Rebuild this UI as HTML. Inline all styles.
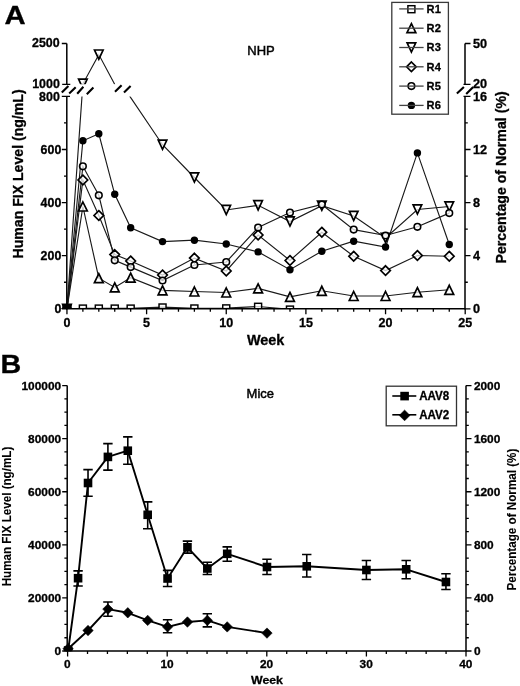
<!DOCTYPE html>
<html><head><meta charset="utf-8"><title>Figure</title>
<style>html,body{margin:0;padding:0;background:#fff;width:520px;height:686px;overflow:hidden}
svg text{fill:#000} text[font-weight]{stroke:#000;stroke-width:0.3px} svg{will-change:transform}</style></head>
<body>
<svg width="520" height="686" viewBox="0 0 520 686" style="display:block;font-family:'Liberation Sans', sans-serif">
<rect width="520" height="686" fill="#fff"/>
<defs><clipPath id="cLow"><rect x="0" y="96.40" width="520" height="212.70"/></clipPath><clipPath id="cUp"><rect x="0" y="0" width="520" height="84.30"/></clipPath><clipPath id="cB"><rect x="0" y="0" width="520" height="651.2"/></clipPath></defs>
<g clip-path="url(#cLow)"><polyline points="66.95,309.00 82.88,308.30 98.81,308.30 114.74,308.30 130.67,308.30 162.53,307.20 194.39,308.20 226.25,308.10 258.11,306.50 289.97,309.30" fill="none" stroke="#1a1a1a" stroke-width="1.15"/>
<polyline points="66.95,309.00 82.88,206.50 98.81,278.20 114.74,287.40 130.67,277.70 162.53,290.40 194.39,291.50 226.25,292.50 258.11,288.40 289.97,296.90 321.83,290.80 353.69,296.00 385.55,296.00 417.41,292.20 449.27,289.80" fill="none" stroke="#1a1a1a" stroke-width="1.15"/>
<polyline points="66.95,309.00 82.88,83.80 98.81,54.60 114.80,84.60" fill="none" stroke="#1a1a1a" stroke-width="1.15"/>
<polyline points="129.70,96.10 162.53,144.75 194.39,177.50 226.25,210.00 258.11,205.30 289.97,221.50 321.83,205.70 353.69,216.00 385.55,238.00 417.41,209.50 449.27,206.50" fill="none" stroke="#1a1a1a" stroke-width="1.15"/>
<polyline points="66.95,309.00 82.88,180.00 98.81,215.50 114.74,254.60 130.67,261.00 162.53,275.00 194.39,258.10 226.25,271.00 258.11,235.00 289.97,260.50 321.83,232.20 353.69,256.25 385.55,270.60 417.41,255.50 449.27,256.25" fill="none" stroke="#1a1a1a" stroke-width="1.15"/>
<polyline points="66.95,309.00 82.88,166.30 98.81,195.30 114.74,260.30 130.67,267.10 162.53,280.50 194.39,265.00 226.25,262.00 258.11,227.50 289.97,212.50 321.83,204.50 353.69,229.60 385.55,235.50 417.41,226.80 449.27,213.10" fill="none" stroke="#1a1a1a" stroke-width="1.15"/>
<polyline points="66.95,309.00 82.88,140.80 98.81,133.80 114.74,194.30 130.67,227.70 162.53,241.60 194.39,240.20 226.25,244.00 258.11,251.90 289.97,269.70 321.83,251.20 353.69,241.20 385.55,247.00 417.41,152.90 449.27,244.50" fill="none" stroke="#1a1a1a" stroke-width="1.15"/>
<rect x="63.45" y="305.80" width="7.00" height="7.00" fill="#fff" fill-opacity="0.75" stroke="#000" stroke-width="1.45"/>
<rect x="79.38" y="305.10" width="7.00" height="7.00" fill="#fff" fill-opacity="0.75" stroke="#000" stroke-width="1.45"/>
<rect x="95.31" y="305.10" width="7.00" height="7.00" fill="#fff" fill-opacity="0.75" stroke="#000" stroke-width="1.45"/>
<rect x="111.24" y="305.10" width="7.00" height="7.00" fill="#fff" fill-opacity="0.75" stroke="#000" stroke-width="1.45"/>
<rect x="127.17" y="305.10" width="7.00" height="7.00" fill="#fff" fill-opacity="0.75" stroke="#000" stroke-width="1.45"/>
<rect x="159.03" y="304.00" width="7.00" height="7.00" fill="#fff" fill-opacity="0.75" stroke="#000" stroke-width="1.45"/>
<rect x="190.89" y="305.00" width="7.00" height="7.00" fill="#fff" fill-opacity="0.75" stroke="#000" stroke-width="1.45"/>
<rect x="222.75" y="304.90" width="7.00" height="7.00" fill="#fff" fill-opacity="0.75" stroke="#000" stroke-width="1.45"/>
<rect x="254.61" y="303.30" width="7.00" height="7.00" fill="#fff" fill-opacity="0.75" stroke="#000" stroke-width="1.45"/>
<rect x="286.47" y="306.10" width="7.00" height="7.00" fill="#fff" fill-opacity="0.75" stroke="#000" stroke-width="1.45"/>
<path d="M66.95 304.50L71.35 313.50L62.55 313.50Z" fill="#fff" fill-opacity="0.75" stroke="#000" stroke-width="1.7"/>
<path d="M82.88 202.00L87.28 211.00L78.48 211.00Z" fill="#fff" fill-opacity="0.75" stroke="#000" stroke-width="1.7"/>
<path d="M98.81 273.70L103.21 282.70L94.41 282.70Z" fill="#fff" fill-opacity="0.75" stroke="#000" stroke-width="1.7"/>
<path d="M114.74 282.90L119.14 291.90L110.34 291.90Z" fill="#fff" fill-opacity="0.75" stroke="#000" stroke-width="1.7"/>
<path d="M130.67 273.20L135.07 282.20L126.27 282.20Z" fill="#fff" fill-opacity="0.75" stroke="#000" stroke-width="1.7"/>
<path d="M162.53 285.90L166.93 294.90L158.13 294.90Z" fill="#fff" fill-opacity="0.75" stroke="#000" stroke-width="1.7"/>
<path d="M194.39 287.00L198.79 296.00L189.99 296.00Z" fill="#fff" fill-opacity="0.75" stroke="#000" stroke-width="1.7"/>
<path d="M226.25 288.00L230.65 297.00L221.85 297.00Z" fill="#fff" fill-opacity="0.75" stroke="#000" stroke-width="1.7"/>
<path d="M258.11 283.90L262.51 292.90L253.71 292.90Z" fill="#fff" fill-opacity="0.75" stroke="#000" stroke-width="1.7"/>
<path d="M289.97 292.40L294.37 301.40L285.57 301.40Z" fill="#fff" fill-opacity="0.75" stroke="#000" stroke-width="1.7"/>
<path d="M321.83 286.30L326.23 295.30L317.43 295.30Z" fill="#fff" fill-opacity="0.75" stroke="#000" stroke-width="1.7"/>
<path d="M353.69 291.50L358.09 300.50L349.29 300.50Z" fill="#fff" fill-opacity="0.75" stroke="#000" stroke-width="1.7"/>
<path d="M385.55 291.50L389.95 300.50L381.15 300.50Z" fill="#fff" fill-opacity="0.75" stroke="#000" stroke-width="1.7"/>
<path d="M417.41 287.70L421.81 296.70L413.01 296.70Z" fill="#fff" fill-opacity="0.75" stroke="#000" stroke-width="1.7"/>
<path d="M449.27 285.30L453.67 294.30L444.87 294.30Z" fill="#fff" fill-opacity="0.75" stroke="#000" stroke-width="1.7"/>
<path d="M62.65 304.40L71.25 304.40L66.95 313.60Z" fill="#fff" fill-opacity="0.75" stroke="#000" stroke-width="1.7"/>
<path d="M78.58 79.20L87.18 79.20L82.88 88.40Z" fill="#fff" fill-opacity="0.75" stroke="#000" stroke-width="1.7"/>
<path d="M94.51 50.00L103.11 50.00L98.81 59.20Z" fill="#fff" fill-opacity="0.75" stroke="#000" stroke-width="1.7"/>
<path d="M158.23 140.15L166.83 140.15L162.53 149.35Z" fill="#fff" fill-opacity="0.75" stroke="#000" stroke-width="1.7"/>
<path d="M190.09 172.90L198.69 172.90L194.39 182.10Z" fill="#fff" fill-opacity="0.75" stroke="#000" stroke-width="1.7"/>
<path d="M221.95 205.40L230.55 205.40L226.25 214.60Z" fill="#fff" fill-opacity="0.75" stroke="#000" stroke-width="1.7"/>
<path d="M253.81 200.70L262.41 200.70L258.11 209.90Z" fill="#fff" fill-opacity="0.75" stroke="#000" stroke-width="1.7"/>
<path d="M285.67 216.90L294.27 216.90L289.97 226.10Z" fill="#fff" fill-opacity="0.75" stroke="#000" stroke-width="1.7"/>
<path d="M317.53 201.10L326.13 201.10L321.83 210.30Z" fill="#fff" fill-opacity="0.75" stroke="#000" stroke-width="1.7"/>
<path d="M349.39 211.40L357.99 211.40L353.69 220.60Z" fill="#fff" fill-opacity="0.75" stroke="#000" stroke-width="1.7"/>
<path d="M381.25 233.40L389.85 233.40L385.55 242.60Z" fill="#fff" fill-opacity="0.75" stroke="#000" stroke-width="1.7"/>
<path d="M413.11 204.90L421.71 204.90L417.41 214.10Z" fill="#fff" fill-opacity="0.75" stroke="#000" stroke-width="1.7"/>
<path d="M444.97 201.90L453.57 201.90L449.27 211.10Z" fill="#fff" fill-opacity="0.75" stroke="#000" stroke-width="1.7"/>
<path d="M66.95 304.20L71.75 309.00L66.95 313.80L62.15 309.00Z" fill="#fff" fill-opacity="0.75" stroke="#000" stroke-width="1.7"/>
<path d="M82.88 175.20L87.68 180.00L82.88 184.80L78.08 180.00Z" fill="#fff" fill-opacity="0.75" stroke="#000" stroke-width="1.7"/>
<path d="M98.81 210.70L103.61 215.50L98.81 220.30L94.01 215.50Z" fill="#fff" fill-opacity="0.75" stroke="#000" stroke-width="1.7"/>
<path d="M114.74 249.80L119.54 254.60L114.74 259.40L109.94 254.60Z" fill="#fff" fill-opacity="0.75" stroke="#000" stroke-width="1.7"/>
<path d="M130.67 256.20L135.47 261.00L130.67 265.80L125.87 261.00Z" fill="#fff" fill-opacity="0.75" stroke="#000" stroke-width="1.7"/>
<path d="M162.53 270.20L167.33 275.00L162.53 279.80L157.73 275.00Z" fill="#fff" fill-opacity="0.75" stroke="#000" stroke-width="1.7"/>
<path d="M194.39 253.30L199.19 258.10L194.39 262.90L189.59 258.10Z" fill="#fff" fill-opacity="0.75" stroke="#000" stroke-width="1.7"/>
<path d="M226.25 266.20L231.05 271.00L226.25 275.80L221.45 271.00Z" fill="#fff" fill-opacity="0.75" stroke="#000" stroke-width="1.7"/>
<path d="M258.11 230.20L262.91 235.00L258.11 239.80L253.31 235.00Z" fill="#fff" fill-opacity="0.75" stroke="#000" stroke-width="1.7"/>
<path d="M289.97 255.70L294.77 260.50L289.97 265.30L285.17 260.50Z" fill="#fff" fill-opacity="0.75" stroke="#000" stroke-width="1.7"/>
<path d="M321.83 227.40L326.63 232.20L321.83 237.00L317.03 232.20Z" fill="#fff" fill-opacity="0.75" stroke="#000" stroke-width="1.7"/>
<path d="M353.69 251.45L358.49 256.25L353.69 261.05L348.89 256.25Z" fill="#fff" fill-opacity="0.75" stroke="#000" stroke-width="1.7"/>
<path d="M385.55 265.80L390.35 270.60L385.55 275.40L380.75 270.60Z" fill="#fff" fill-opacity="0.75" stroke="#000" stroke-width="1.7"/>
<path d="M417.41 250.70L422.21 255.50L417.41 260.30L412.61 255.50Z" fill="#fff" fill-opacity="0.75" stroke="#000" stroke-width="1.7"/>
<path d="M449.27 251.45L454.07 256.25L449.27 261.05L444.47 256.25Z" fill="#fff" fill-opacity="0.75" stroke="#000" stroke-width="1.7"/>
<circle cx="66.95" cy="309.00" r="3.3" fill="#fff" fill-opacity="0.75" stroke="#000" stroke-width="1.6"/>
<circle cx="82.88" cy="166.30" r="3.3" fill="#fff" fill-opacity="0.75" stroke="#000" stroke-width="1.6"/>
<circle cx="98.81" cy="195.30" r="3.3" fill="#fff" fill-opacity="0.75" stroke="#000" stroke-width="1.6"/>
<circle cx="114.74" cy="260.30" r="3.3" fill="#fff" fill-opacity="0.75" stroke="#000" stroke-width="1.6"/>
<circle cx="130.67" cy="267.10" r="3.3" fill="#fff" fill-opacity="0.75" stroke="#000" stroke-width="1.6"/>
<circle cx="162.53" cy="280.50" r="3.3" fill="#fff" fill-opacity="0.75" stroke="#000" stroke-width="1.6"/>
<circle cx="194.39" cy="265.00" r="3.3" fill="#fff" fill-opacity="0.75" stroke="#000" stroke-width="1.6"/>
<circle cx="226.25" cy="262.00" r="3.3" fill="#fff" fill-opacity="0.75" stroke="#000" stroke-width="1.6"/>
<circle cx="258.11" cy="227.50" r="3.3" fill="#fff" fill-opacity="0.75" stroke="#000" stroke-width="1.6"/>
<circle cx="289.97" cy="212.50" r="3.3" fill="#fff" fill-opacity="0.75" stroke="#000" stroke-width="1.6"/>
<circle cx="321.83" cy="204.50" r="3.3" fill="#fff" fill-opacity="0.75" stroke="#000" stroke-width="1.6"/>
<circle cx="353.69" cy="229.60" r="3.3" fill="#fff" fill-opacity="0.75" stroke="#000" stroke-width="1.6"/>
<circle cx="385.55" cy="235.50" r="3.3" fill="#fff" fill-opacity="0.75" stroke="#000" stroke-width="1.6"/>
<circle cx="417.41" cy="226.80" r="3.3" fill="#fff" fill-opacity="0.75" stroke="#000" stroke-width="1.6"/>
<circle cx="449.27" cy="213.10" r="3.3" fill="#fff" fill-opacity="0.75" stroke="#000" stroke-width="1.6"/>
<circle cx="66.95" cy="309.00" r="3.7" fill="#000"/>
<circle cx="82.88" cy="140.80" r="3.7" fill="#000"/>
<circle cx="98.81" cy="133.80" r="3.7" fill="#000"/>
<circle cx="114.74" cy="194.30" r="3.7" fill="#000"/>
<circle cx="130.67" cy="227.70" r="3.7" fill="#000"/>
<circle cx="162.53" cy="241.60" r="3.7" fill="#000"/>
<circle cx="194.39" cy="240.20" r="3.7" fill="#000"/>
<circle cx="226.25" cy="244.00" r="3.7" fill="#000"/>
<circle cx="258.11" cy="251.90" r="3.7" fill="#000"/>
<circle cx="289.97" cy="269.70" r="3.7" fill="#000"/>
<circle cx="321.83" cy="251.20" r="3.7" fill="#000"/>
<circle cx="353.69" cy="241.20" r="3.7" fill="#000"/>
<circle cx="385.55" cy="247.00" r="3.7" fill="#000"/>
<circle cx="417.41" cy="152.90" r="3.7" fill="#000"/>
<circle cx="449.27" cy="244.50" r="3.7" fill="#000"/><rect x="62.4" y="304" width="9.2" height="5.2" fill="#000"/></g>
<g clip-path="url(#cUp)"><polyline points="66.95,309.00 82.88,308.30 98.81,308.30 114.74,308.30 130.67,308.30 162.53,307.20 194.39,308.20 226.25,308.10 258.11,306.50 289.97,309.30" fill="none" stroke="#1a1a1a" stroke-width="1.15"/>
<polyline points="66.95,309.00 82.88,206.50 98.81,278.20 114.74,287.40 130.67,277.70 162.53,290.40 194.39,291.50 226.25,292.50 258.11,288.40 289.97,296.90 321.83,290.80 353.69,296.00 385.55,296.00 417.41,292.20 449.27,289.80" fill="none" stroke="#1a1a1a" stroke-width="1.15"/>
<polyline points="66.95,309.00 82.88,83.80 98.81,54.60 114.80,84.60" fill="none" stroke="#1a1a1a" stroke-width="1.15"/>
<polyline points="129.70,96.10 162.53,144.75 194.39,177.50 226.25,210.00 258.11,205.30 289.97,221.50 321.83,205.70 353.69,216.00 385.55,238.00 417.41,209.50 449.27,206.50" fill="none" stroke="#1a1a1a" stroke-width="1.15"/>
<polyline points="66.95,309.00 82.88,180.00 98.81,215.50 114.74,254.60 130.67,261.00 162.53,275.00 194.39,258.10 226.25,271.00 258.11,235.00 289.97,260.50 321.83,232.20 353.69,256.25 385.55,270.60 417.41,255.50 449.27,256.25" fill="none" stroke="#1a1a1a" stroke-width="1.15"/>
<polyline points="66.95,309.00 82.88,166.30 98.81,195.30 114.74,260.30 130.67,267.10 162.53,280.50 194.39,265.00 226.25,262.00 258.11,227.50 289.97,212.50 321.83,204.50 353.69,229.60 385.55,235.50 417.41,226.80 449.27,213.10" fill="none" stroke="#1a1a1a" stroke-width="1.15"/>
<polyline points="66.95,309.00 82.88,140.80 98.81,133.80 114.74,194.30 130.67,227.70 162.53,241.60 194.39,240.20 226.25,244.00 258.11,251.90 289.97,269.70 321.83,251.20 353.69,241.20 385.55,247.00 417.41,152.90 449.27,244.50" fill="none" stroke="#1a1a1a" stroke-width="1.15"/>
<rect x="63.45" y="305.80" width="7.00" height="7.00" fill="#fff" fill-opacity="0.75" stroke="#000" stroke-width="1.45"/>
<rect x="79.38" y="305.10" width="7.00" height="7.00" fill="#fff" fill-opacity="0.75" stroke="#000" stroke-width="1.45"/>
<rect x="95.31" y="305.10" width="7.00" height="7.00" fill="#fff" fill-opacity="0.75" stroke="#000" stroke-width="1.45"/>
<rect x="111.24" y="305.10" width="7.00" height="7.00" fill="#fff" fill-opacity="0.75" stroke="#000" stroke-width="1.45"/>
<rect x="127.17" y="305.10" width="7.00" height="7.00" fill="#fff" fill-opacity="0.75" stroke="#000" stroke-width="1.45"/>
<rect x="159.03" y="304.00" width="7.00" height="7.00" fill="#fff" fill-opacity="0.75" stroke="#000" stroke-width="1.45"/>
<rect x="190.89" y="305.00" width="7.00" height="7.00" fill="#fff" fill-opacity="0.75" stroke="#000" stroke-width="1.45"/>
<rect x="222.75" y="304.90" width="7.00" height="7.00" fill="#fff" fill-opacity="0.75" stroke="#000" stroke-width="1.45"/>
<rect x="254.61" y="303.30" width="7.00" height="7.00" fill="#fff" fill-opacity="0.75" stroke="#000" stroke-width="1.45"/>
<rect x="286.47" y="306.10" width="7.00" height="7.00" fill="#fff" fill-opacity="0.75" stroke="#000" stroke-width="1.45"/>
<path d="M66.95 304.50L71.35 313.50L62.55 313.50Z" fill="#fff" fill-opacity="0.75" stroke="#000" stroke-width="1.7"/>
<path d="M82.88 202.00L87.28 211.00L78.48 211.00Z" fill="#fff" fill-opacity="0.75" stroke="#000" stroke-width="1.7"/>
<path d="M98.81 273.70L103.21 282.70L94.41 282.70Z" fill="#fff" fill-opacity="0.75" stroke="#000" stroke-width="1.7"/>
<path d="M114.74 282.90L119.14 291.90L110.34 291.90Z" fill="#fff" fill-opacity="0.75" stroke="#000" stroke-width="1.7"/>
<path d="M130.67 273.20L135.07 282.20L126.27 282.20Z" fill="#fff" fill-opacity="0.75" stroke="#000" stroke-width="1.7"/>
<path d="M162.53 285.90L166.93 294.90L158.13 294.90Z" fill="#fff" fill-opacity="0.75" stroke="#000" stroke-width="1.7"/>
<path d="M194.39 287.00L198.79 296.00L189.99 296.00Z" fill="#fff" fill-opacity="0.75" stroke="#000" stroke-width="1.7"/>
<path d="M226.25 288.00L230.65 297.00L221.85 297.00Z" fill="#fff" fill-opacity="0.75" stroke="#000" stroke-width="1.7"/>
<path d="M258.11 283.90L262.51 292.90L253.71 292.90Z" fill="#fff" fill-opacity="0.75" stroke="#000" stroke-width="1.7"/>
<path d="M289.97 292.40L294.37 301.40L285.57 301.40Z" fill="#fff" fill-opacity="0.75" stroke="#000" stroke-width="1.7"/>
<path d="M321.83 286.30L326.23 295.30L317.43 295.30Z" fill="#fff" fill-opacity="0.75" stroke="#000" stroke-width="1.7"/>
<path d="M353.69 291.50L358.09 300.50L349.29 300.50Z" fill="#fff" fill-opacity="0.75" stroke="#000" stroke-width="1.7"/>
<path d="M385.55 291.50L389.95 300.50L381.15 300.50Z" fill="#fff" fill-opacity="0.75" stroke="#000" stroke-width="1.7"/>
<path d="M417.41 287.70L421.81 296.70L413.01 296.70Z" fill="#fff" fill-opacity="0.75" stroke="#000" stroke-width="1.7"/>
<path d="M449.27 285.30L453.67 294.30L444.87 294.30Z" fill="#fff" fill-opacity="0.75" stroke="#000" stroke-width="1.7"/>
<path d="M62.65 304.40L71.25 304.40L66.95 313.60Z" fill="#fff" fill-opacity="0.75" stroke="#000" stroke-width="1.7"/>
<path d="M78.58 79.20L87.18 79.20L82.88 88.40Z" fill="#fff" fill-opacity="0.75" stroke="#000" stroke-width="1.7"/>
<path d="M94.51 50.00L103.11 50.00L98.81 59.20Z" fill="#fff" fill-opacity="0.75" stroke="#000" stroke-width="1.7"/>
<path d="M158.23 140.15L166.83 140.15L162.53 149.35Z" fill="#fff" fill-opacity="0.75" stroke="#000" stroke-width="1.7"/>
<path d="M190.09 172.90L198.69 172.90L194.39 182.10Z" fill="#fff" fill-opacity="0.75" stroke="#000" stroke-width="1.7"/>
<path d="M221.95 205.40L230.55 205.40L226.25 214.60Z" fill="#fff" fill-opacity="0.75" stroke="#000" stroke-width="1.7"/>
<path d="M253.81 200.70L262.41 200.70L258.11 209.90Z" fill="#fff" fill-opacity="0.75" stroke="#000" stroke-width="1.7"/>
<path d="M285.67 216.90L294.27 216.90L289.97 226.10Z" fill="#fff" fill-opacity="0.75" stroke="#000" stroke-width="1.7"/>
<path d="M317.53 201.10L326.13 201.10L321.83 210.30Z" fill="#fff" fill-opacity="0.75" stroke="#000" stroke-width="1.7"/>
<path d="M349.39 211.40L357.99 211.40L353.69 220.60Z" fill="#fff" fill-opacity="0.75" stroke="#000" stroke-width="1.7"/>
<path d="M381.25 233.40L389.85 233.40L385.55 242.60Z" fill="#fff" fill-opacity="0.75" stroke="#000" stroke-width="1.7"/>
<path d="M413.11 204.90L421.71 204.90L417.41 214.10Z" fill="#fff" fill-opacity="0.75" stroke="#000" stroke-width="1.7"/>
<path d="M444.97 201.90L453.57 201.90L449.27 211.10Z" fill="#fff" fill-opacity="0.75" stroke="#000" stroke-width="1.7"/>
<path d="M66.95 304.20L71.75 309.00L66.95 313.80L62.15 309.00Z" fill="#fff" fill-opacity="0.75" stroke="#000" stroke-width="1.7"/>
<path d="M82.88 175.20L87.68 180.00L82.88 184.80L78.08 180.00Z" fill="#fff" fill-opacity="0.75" stroke="#000" stroke-width="1.7"/>
<path d="M98.81 210.70L103.61 215.50L98.81 220.30L94.01 215.50Z" fill="#fff" fill-opacity="0.75" stroke="#000" stroke-width="1.7"/>
<path d="M114.74 249.80L119.54 254.60L114.74 259.40L109.94 254.60Z" fill="#fff" fill-opacity="0.75" stroke="#000" stroke-width="1.7"/>
<path d="M130.67 256.20L135.47 261.00L130.67 265.80L125.87 261.00Z" fill="#fff" fill-opacity="0.75" stroke="#000" stroke-width="1.7"/>
<path d="M162.53 270.20L167.33 275.00L162.53 279.80L157.73 275.00Z" fill="#fff" fill-opacity="0.75" stroke="#000" stroke-width="1.7"/>
<path d="M194.39 253.30L199.19 258.10L194.39 262.90L189.59 258.10Z" fill="#fff" fill-opacity="0.75" stroke="#000" stroke-width="1.7"/>
<path d="M226.25 266.20L231.05 271.00L226.25 275.80L221.45 271.00Z" fill="#fff" fill-opacity="0.75" stroke="#000" stroke-width="1.7"/>
<path d="M258.11 230.20L262.91 235.00L258.11 239.80L253.31 235.00Z" fill="#fff" fill-opacity="0.75" stroke="#000" stroke-width="1.7"/>
<path d="M289.97 255.70L294.77 260.50L289.97 265.30L285.17 260.50Z" fill="#fff" fill-opacity="0.75" stroke="#000" stroke-width="1.7"/>
<path d="M321.83 227.40L326.63 232.20L321.83 237.00L317.03 232.20Z" fill="#fff" fill-opacity="0.75" stroke="#000" stroke-width="1.7"/>
<path d="M353.69 251.45L358.49 256.25L353.69 261.05L348.89 256.25Z" fill="#fff" fill-opacity="0.75" stroke="#000" stroke-width="1.7"/>
<path d="M385.55 265.80L390.35 270.60L385.55 275.40L380.75 270.60Z" fill="#fff" fill-opacity="0.75" stroke="#000" stroke-width="1.7"/>
<path d="M417.41 250.70L422.21 255.50L417.41 260.30L412.61 255.50Z" fill="#fff" fill-opacity="0.75" stroke="#000" stroke-width="1.7"/>
<path d="M449.27 251.45L454.07 256.25L449.27 261.05L444.47 256.25Z" fill="#fff" fill-opacity="0.75" stroke="#000" stroke-width="1.7"/>
<circle cx="66.95" cy="309.00" r="3.3" fill="#fff" fill-opacity="0.75" stroke="#000" stroke-width="1.6"/>
<circle cx="82.88" cy="166.30" r="3.3" fill="#fff" fill-opacity="0.75" stroke="#000" stroke-width="1.6"/>
<circle cx="98.81" cy="195.30" r="3.3" fill="#fff" fill-opacity="0.75" stroke="#000" stroke-width="1.6"/>
<circle cx="114.74" cy="260.30" r="3.3" fill="#fff" fill-opacity="0.75" stroke="#000" stroke-width="1.6"/>
<circle cx="130.67" cy="267.10" r="3.3" fill="#fff" fill-opacity="0.75" stroke="#000" stroke-width="1.6"/>
<circle cx="162.53" cy="280.50" r="3.3" fill="#fff" fill-opacity="0.75" stroke="#000" stroke-width="1.6"/>
<circle cx="194.39" cy="265.00" r="3.3" fill="#fff" fill-opacity="0.75" stroke="#000" stroke-width="1.6"/>
<circle cx="226.25" cy="262.00" r="3.3" fill="#fff" fill-opacity="0.75" stroke="#000" stroke-width="1.6"/>
<circle cx="258.11" cy="227.50" r="3.3" fill="#fff" fill-opacity="0.75" stroke="#000" stroke-width="1.6"/>
<circle cx="289.97" cy="212.50" r="3.3" fill="#fff" fill-opacity="0.75" stroke="#000" stroke-width="1.6"/>
<circle cx="321.83" cy="204.50" r="3.3" fill="#fff" fill-opacity="0.75" stroke="#000" stroke-width="1.6"/>
<circle cx="353.69" cy="229.60" r="3.3" fill="#fff" fill-opacity="0.75" stroke="#000" stroke-width="1.6"/>
<circle cx="385.55" cy="235.50" r="3.3" fill="#fff" fill-opacity="0.75" stroke="#000" stroke-width="1.6"/>
<circle cx="417.41" cy="226.80" r="3.3" fill="#fff" fill-opacity="0.75" stroke="#000" stroke-width="1.6"/>
<circle cx="449.27" cy="213.10" r="3.3" fill="#fff" fill-opacity="0.75" stroke="#000" stroke-width="1.6"/>
<circle cx="66.95" cy="309.00" r="3.7" fill="#000"/>
<circle cx="82.88" cy="140.80" r="3.7" fill="#000"/>
<circle cx="98.81" cy="133.80" r="3.7" fill="#000"/>
<circle cx="114.74" cy="194.30" r="3.7" fill="#000"/>
<circle cx="130.67" cy="227.70" r="3.7" fill="#000"/>
<circle cx="162.53" cy="241.60" r="3.7" fill="#000"/>
<circle cx="194.39" cy="240.20" r="3.7" fill="#000"/>
<circle cx="226.25" cy="244.00" r="3.7" fill="#000"/>
<circle cx="258.11" cy="251.90" r="3.7" fill="#000"/>
<circle cx="289.97" cy="269.70" r="3.7" fill="#000"/>
<circle cx="321.83" cy="251.20" r="3.7" fill="#000"/>
<circle cx="353.69" cy="241.20" r="3.7" fill="#000"/>
<circle cx="385.55" cy="247.00" r="3.7" fill="#000"/>
<circle cx="417.41" cy="152.90" r="3.7" fill="#000"/>
<circle cx="449.27" cy="244.50" r="3.7" fill="#000"/></g>
<path d="M66.8 43.5V84.3M66.8 96.4V309.55" stroke="#000" stroke-width="1.5" fill="none"/>
<path d="M465.0 43.5V84.3M465.0 96.4V309.55" stroke="#000" stroke-width="1.5" fill="none"/>
<path d="M66.2 308.8H465.0" stroke="#000" stroke-width="1.5" fill="none"/>
<path d="M61.8 308.80H66.8M61.8 255.70H66.8M61.8 202.60H66.8M61.8 149.50H66.8M61.8 96.40H66.8M64.0 282.25H66.8M64.0 229.15H66.8M64.0 176.05H66.8M64.0 122.95H66.8M61.8 43.5H66.8M62.199999999999996 84.3H70.3M62.199999999999996 96.4H70.0M465.0 308.80H470.5M465.0 255.70H470.5M465.0 202.60H470.5M465.0 149.50H470.5M465.0 96.40H470.5M465.0 282.25H467.8M465.0 229.15H467.8M465.0 176.05H467.8M465.0 122.95H467.8M465.0 43.5H470.5M463.5 84.3H470.5M463.5 96.4H470.5M66.95 308.8V314.3M82.88 308.8V311.8M98.81 308.8V311.8M114.74 308.8V311.8M130.67 308.8V311.8M146.60 308.8V314.3M162.53 308.8V311.8M178.46 308.8V311.8M194.39 308.8V311.8M210.32 308.8V311.8M226.25 308.8V314.3M242.18 308.8V311.8M258.11 308.8V311.8M274.04 308.8V311.8M289.97 308.8V311.8M305.90 308.8V314.3M321.83 308.8V311.8M337.76 308.8V311.8M353.69 308.8V311.8M369.62 308.8V311.8M385.55 308.8V314.3M401.48 308.8V311.8M417.41 308.8V311.8M433.34 308.8V311.8M449.27 308.8V311.8M465.20 308.8V314.3" stroke="#000" stroke-width="1.3" fill="none"/>
<path d="M61.8 92.6L68.4 86.1M69.2 93.4L75.7 87.2M77.2 93.8L83.4 86.8M86.8 94.2L93.4 87.6M115.0 91.8L121.6 85.3M124.0 92.4L130.6 85.9M456.9 93.6L463.9 86.9M466.2 94.1L473.2 87.1" stroke="#000" stroke-width="2.1" fill="none"/>
<text transform="translate(61.30 313.00)" font-size="12.4" font-weight="bold" text-anchor="end">0</text>
<text transform="translate(61.30 259.90)" font-size="12.4" font-weight="bold" text-anchor="end">200</text>
<text transform="translate(61.30 206.80)" font-size="12.4" font-weight="bold" text-anchor="end">400</text>
<text transform="translate(61.30 153.70)" font-size="12.4" font-weight="bold" text-anchor="end">600</text>
<text transform="translate(59.80 100.80)" font-size="12.4" font-weight="bold" text-anchor="end">800</text>
<text transform="translate(59.80 87.60)" font-size="12.4" font-weight="bold" text-anchor="end">1000</text>
<text transform="translate(59.60 47.40)" font-size="12.4" font-weight="bold" text-anchor="end">2500</text>
<text transform="translate(472.90 313.00) scale(1.040 1)" font-size="12.2" font-weight="bold">0</text>
<text transform="translate(472.90 259.90) scale(1.040 1)" font-size="12.2" font-weight="bold">4</text>
<text transform="translate(472.90 206.80) scale(1.040 1)" font-size="12.2" font-weight="bold">8</text>
<text transform="translate(472.90 153.70) scale(1.040 1)" font-size="12.2" font-weight="bold">12</text>
<text transform="translate(472.90 100.60) scale(1.040 1)" font-size="12.2" font-weight="bold">16</text>
<text transform="translate(472.90 88.20) scale(1.040 1)" font-size="12.2" font-weight="bold">20</text>
<text transform="translate(472.90 47.90) scale(1.040 1)" font-size="12.2" font-weight="bold">50</text>
<text transform="translate(66.95 327.20) scale(0.980 1)" font-size="12.8" font-weight="bold" text-anchor="middle">0</text>
<text transform="translate(146.60 327.20) scale(0.980 1)" font-size="12.8" font-weight="bold" text-anchor="middle">5</text>
<text transform="translate(226.25 327.20) scale(0.980 1)" font-size="12.8" font-weight="bold" text-anchor="middle">10</text>
<text transform="translate(305.90 327.20) scale(0.980 1)" font-size="12.8" font-weight="bold" text-anchor="middle">15</text>
<text transform="translate(385.55 327.20) scale(0.980 1)" font-size="12.8" font-weight="bold" text-anchor="middle">20</text>
<text transform="translate(465.20 327.20) scale(0.980 1)" font-size="12.8" font-weight="bold" text-anchor="middle">25</text>
<text transform="translate(246.90 345.30) scale(1.030 1)" font-size="14.0" font-weight="bold">Week</text>
<text transform="translate(247.30 55.00)" font-size="13.0" stroke="#000" stroke-width="0.45">NHP</text>
<text transform="translate(4.60 24.00) scale(1.100 1)" font-size="26.6" font-weight="bold">A</text>
<text transform="translate(23.20 258.49) rotate(-90) scale(0.940 1)" font-size="15.0" font-weight="bold">Human FIX Level (ng/mL)</text>
<text transform="translate(505.80 263.49) rotate(-90) scale(0.957 1)" font-size="14.8" font-weight="bold">Percentage of Normal (%)</text>
<rect x="391.8" y="2.4" width="56.6" height="111.8" fill="#fff" stroke="#3a3a3a" stroke-width="1.3"/>
<rect x="407.90" y="5.70" width="7.00" height="7.00" fill="#fff" fill-opacity="0.75" stroke="#000" stroke-width="1.45"/>
<line x1="399.2" y1="8.90" x2="423.6" y2="8.90" stroke="#444" stroke-width="1.3"/>
<text transform="translate(426.60 13.20) scale(0.960 1)" font-size="11.6" font-weight="bold">R1</text>
<path d="M411.40 23.70L415.80 32.70L407.00 32.70Z" fill="#fff" fill-opacity="0.75" stroke="#000" stroke-width="1.7"/>
<line x1="399.2" y1="28.20" x2="423.6" y2="28.20" stroke="#444" stroke-width="1.3"/>
<text transform="translate(426.60 32.32) scale(0.960 1)" font-size="11.6" font-weight="bold">R2</text>
<path d="M407.10 42.90L415.70 42.90L411.40 52.10Z" fill="#fff" fill-opacity="0.75" stroke="#000" stroke-width="1.7"/>
<line x1="399.2" y1="47.50" x2="423.6" y2="47.50" stroke="#444" stroke-width="1.3"/>
<text transform="translate(426.60 51.44) scale(0.960 1)" font-size="11.6" font-weight="bold">R3</text>
<path d="M411.40 62.00L416.20 66.80L411.40 71.60L406.60 66.80Z" fill="#fff" fill-opacity="0.75" stroke="#000" stroke-width="1.7"/>
<line x1="399.2" y1="66.80" x2="423.6" y2="66.80" stroke="#444" stroke-width="1.3"/>
<text transform="translate(426.60 70.56) scale(0.960 1)" font-size="11.6" font-weight="bold">R4</text>
<circle cx="411.40" cy="86.10" r="3.3" fill="#fff" fill-opacity="0.75" stroke="#000" stroke-width="1.6"/>
<line x1="399.2" y1="86.10" x2="423.6" y2="86.10" stroke="#444" stroke-width="1.3"/>
<text transform="translate(426.60 89.68) scale(0.960 1)" font-size="11.6" font-weight="bold">R5</text>
<circle cx="411.40" cy="105.40" r="3.7" fill="#000"/>
<line x1="399.2" y1="105.40" x2="423.6" y2="105.40" stroke="#444" stroke-width="1.3"/>
<text transform="translate(426.60 108.80) scale(0.960 1)" font-size="11.6" font-weight="bold">R6</text>
<path d="M67.2 385.60V651.75M466.0 385.60V651.75M66.45 651.0H466.75" stroke="#000" stroke-width="1.5" fill="none"/>
<path d="M62.2 651.00H67.2M466.0 651.00H471.5M64.4 637.73H67.2M466.0 637.73H468.8M64.4 624.46H67.2M466.0 624.46H468.8M64.4 611.19H67.2M466.0 611.19H468.8M62.2 597.92H67.2M466.0 597.92H471.5M64.4 584.65H67.2M466.0 584.65H468.8M64.4 571.38H67.2M466.0 571.38H468.8M64.4 558.11H67.2M466.0 558.11H468.8M62.2 544.84H67.2M466.0 544.84H471.5M64.4 531.57H67.2M466.0 531.57H468.8M64.4 518.30H67.2M466.0 518.30H468.8M64.4 505.03H67.2M466.0 505.03H468.8M62.2 491.76H67.2M466.0 491.76H471.5M64.4 478.49H67.2M466.0 478.49H468.8M64.4 465.22H67.2M466.0 465.22H468.8M64.4 451.95H67.2M466.0 451.95H468.8M62.2 438.68H67.2M466.0 438.68H471.5M64.4 425.41H67.2M466.0 425.41H468.8M64.4 412.14H67.2M466.0 412.14H468.8M64.4 398.87H67.2M466.0 398.87H468.8M62.2 385.60H67.2M466.0 385.60H471.5M67.60 651.0V656.5M87.52 651.0V654.0M107.44 651.0V654.0M127.36 651.0V654.0M147.28 651.0V654.0M167.20 651.0V656.5M187.12 651.0V654.0M207.04 651.0V654.0M226.96 651.0V654.0M246.88 651.0V654.0M266.80 651.0V656.5M286.72 651.0V654.0M306.64 651.0V654.0M326.56 651.0V654.0M346.48 651.0V654.0M366.40 651.0V656.5M386.32 651.0V654.0M406.24 651.0V654.0M426.16 651.0V654.0M446.08 651.0V654.0M466.00 651.0V656.5" stroke="#000" stroke-width="1.3" fill="none"/>
<text transform="translate(61.10 654.90) scale(1.080 1)" font-size="11.0" font-weight="bold" text-anchor="end">0</text>
<text transform="translate(61.10 601.82) scale(1.080 1)" font-size="11.0" font-weight="bold" text-anchor="end">20000</text>
<text transform="translate(61.10 548.74) scale(1.080 1)" font-size="11.0" font-weight="bold" text-anchor="end">40000</text>
<text transform="translate(61.10 495.66) scale(1.080 1)" font-size="11.0" font-weight="bold" text-anchor="end">60000</text>
<text transform="translate(61.10 442.58) scale(1.080 1)" font-size="11.0" font-weight="bold" text-anchor="end">80000</text>
<text transform="translate(61.10 389.50) scale(1.080 1)" font-size="11.0" font-weight="bold" text-anchor="end">100000</text>
<text transform="translate(473.90 654.90) scale(1.080 1)" font-size="11.0" font-weight="bold">0</text>
<text transform="translate(473.90 601.82) scale(1.080 1)" font-size="11.0" font-weight="bold">400</text>
<text transform="translate(473.90 548.74) scale(1.080 1)" font-size="11.0" font-weight="bold">800</text>
<text transform="translate(473.90 495.66) scale(1.080 1)" font-size="11.0" font-weight="bold">1200</text>
<text transform="translate(473.90 442.58) scale(1.080 1)" font-size="11.0" font-weight="bold">1600</text>
<text transform="translate(473.90 389.50) scale(1.080 1)" font-size="11.0" font-weight="bold">2000</text>
<text transform="translate(67.40 668.40) scale(1.080 1)" font-size="11.0" font-weight="bold" text-anchor="middle">0</text>
<text transform="translate(167.00 668.40) scale(1.080 1)" font-size="11.0" font-weight="bold" text-anchor="middle">10</text>
<text transform="translate(266.60 668.40) scale(1.080 1)" font-size="11.0" font-weight="bold" text-anchor="middle">20</text>
<text transform="translate(366.20 668.40) scale(1.080 1)" font-size="11.0" font-weight="bold" text-anchor="middle">30</text>
<text transform="translate(465.80 668.40) scale(1.080 1)" font-size="11.0" font-weight="bold" text-anchor="middle">40</text>
<text transform="translate(251.00 683.80) scale(1.100 1)" font-size="11.2" font-weight="bold">Week</text>
<text transform="translate(246.60 397.60) scale(1.030 1)" font-size="12.6" stroke="#000" stroke-width="0.45">Mice</text>
<text transform="translate(0.50 373.00) scale(1.100 1)" font-size="26.1" font-weight="bold">B</text>
<text transform="translate(11.10 586.31) rotate(-90) scale(0.970 1)" font-size="12.0" font-weight="bold" style="stroke-width:0.1px">Human FIX Level (ng/mL)</text>
<text transform="translate(515.80 590.52) rotate(-90) scale(0.972 1)" font-size="12.0" font-weight="bold" style="stroke-width:0.1px">Percentage of Normal (%)</text>
<g clip-path="url(#cB)"><polyline points="68.14,650.50 78.08,578.20 88.02,483.00 107.91,456.90 127.79,450.70 147.68,514.80 167.56,578.50 187.44,547.30 207.33,568.50 227.21,553.80 266.98,567.00 306.75,566.30 366.40,570.00 406.17,569.30 445.94,582.00" fill="none" stroke="#000" stroke-width="1.9" stroke-linejoin="round"/><path d="M78.08 570.90V586.00M73.38 570.90H82.78M73.38 586.00H82.78M88.02 469.60V496.20M83.32 469.60H92.72M83.32 496.20H92.72M107.91 443.60V470.10M103.21 443.60H112.61M103.21 470.10H112.61M127.79 436.90V464.30M123.09 436.90H132.49M123.09 464.30H132.49M147.68 501.90V528.70M142.98 501.90H152.38M142.98 528.70H152.38M167.56 570.40V586.50M162.86 570.40H172.26M162.86 586.50H172.26M187.44 541.10V553.10M182.74 541.10H192.14M182.74 553.10H192.14M207.33 562.30V574.50M202.63 562.30H212.03M202.63 574.50H212.03M227.21 546.90V561.20M222.51 546.90H231.91M222.51 561.20H231.91M266.98 559.30V574.50M262.28 559.30H271.68M262.28 574.50H271.68M306.75 554.50V577.00M302.05 554.50H311.45M302.05 577.00H311.45M366.40 560.50V579.50M361.70 560.50H371.10M361.70 579.50H371.10M406.17 560.50V578.80M401.47 560.50H410.87M401.47 578.80H410.87M445.94 573.80V589.50M441.24 573.80H450.64M441.24 589.50H450.64" stroke="#000" stroke-width="1.6" fill="none"/><rect x="63.84" y="646.20" width="8.6" height="8.6" fill="#000"/><rect x="73.78" y="573.90" width="8.6" height="8.6" fill="#000"/><rect x="83.72" y="478.70" width="8.6" height="8.6" fill="#000"/><rect x="103.61" y="452.60" width="8.6" height="8.6" fill="#000"/><rect x="123.49" y="446.40" width="8.6" height="8.6" fill="#000"/><rect x="143.38" y="510.50" width="8.6" height="8.6" fill="#000"/><rect x="163.26" y="574.20" width="8.6" height="8.6" fill="#000"/><rect x="183.14" y="543.00" width="8.6" height="8.6" fill="#000"/><rect x="203.03" y="564.20" width="8.6" height="8.6" fill="#000"/><rect x="222.91" y="549.50" width="8.6" height="8.6" fill="#000"/><rect x="262.68" y="562.70" width="8.6" height="8.6" fill="#000"/><rect x="302.45" y="562.00" width="8.6" height="8.6" fill="#000"/><rect x="362.10" y="565.70" width="8.6" height="8.6" fill="#000"/><rect x="401.87" y="565.00" width="8.6" height="8.6" fill="#000"/><rect x="441.64" y="577.70" width="8.6" height="8.6" fill="#000"/><polyline points="68.14,648.70 88.02,630.50 107.91,609.10 127.79,612.80 147.68,620.40 167.56,626.80 187.44,622.00 207.33,620.40 227.21,626.90 266.98,633.10" fill="none" stroke="#000" stroke-width="1.9" stroke-linejoin="round"/><path d="M107.91 602.00V616.30M103.21 602.00H112.61M103.21 616.30H112.61M167.56 619.70V632.80M162.86 619.70H172.26M162.86 632.80H172.26M207.33 613.70V626.90M202.63 613.70H212.03M202.63 626.90H212.03" stroke="#000" stroke-width="1.6" fill="none"/><path d="M68.14 643.50L73.34 648.70L68.14 653.90L62.94 648.70Z" fill="#000" stroke="#000" stroke-width="0.6"/><path d="M88.02 625.30L93.22 630.50L88.02 635.70L82.82 630.50Z" fill="#000" stroke="#000" stroke-width="0.6"/><path d="M107.91 603.90L113.11 609.10L107.91 614.30L102.71 609.10Z" fill="#000" stroke="#000" stroke-width="0.6"/><path d="M127.79 607.60L132.99 612.80L127.79 618.00L122.59 612.80Z" fill="#000" stroke="#000" stroke-width="0.6"/><path d="M147.68 615.20L152.88 620.40L147.68 625.60L142.48 620.40Z" fill="#000" stroke="#000" stroke-width="0.6"/><path d="M167.56 621.60L172.76 626.80L167.56 632.00L162.36 626.80Z" fill="#000" stroke="#000" stroke-width="0.6"/><path d="M187.44 616.80L192.64 622.00L187.44 627.20L182.24 622.00Z" fill="#000" stroke="#000" stroke-width="0.6"/><path d="M207.33 615.20L212.53 620.40L207.33 625.60L202.13 620.40Z" fill="#000" stroke="#000" stroke-width="0.6"/><path d="M227.21 621.70L232.41 626.90L227.21 632.10L222.01 626.90Z" fill="#000" stroke="#000" stroke-width="0.6"/><path d="M266.98 627.90L272.18 633.10L266.98 638.30L261.78 633.10Z" fill="#000" stroke="#000" stroke-width="0.6"/></g>
<rect x="386.2" y="386.2" width="70.3" height="39.6" fill="#fff" stroke="#333" stroke-width="1.3"/>
<line x1="392.3" y1="396" x2="416.3" y2="396" stroke="#000" stroke-width="1.6"/>
<rect x="400.3" y="391.8" width="8.6" height="8.6" fill="#000"/>
<line x1="392.3" y1="414.8" x2="416.3" y2="414.8" stroke="#000" stroke-width="1.6"/>
<path d="M404.60 410.00L410.00 415.40L404.60 420.80L399.20 415.40Z" fill="#000" stroke="#000" stroke-width="0.5"/>
<text transform="translate(419.20 399.80) scale(0.965 1)" font-size="12.0" font-weight="bold">AAV8</text>
<text transform="translate(419.20 418.80) scale(0.965 1)" font-size="12.0" font-weight="bold">AAV2</text>
</svg>
</body></html>
